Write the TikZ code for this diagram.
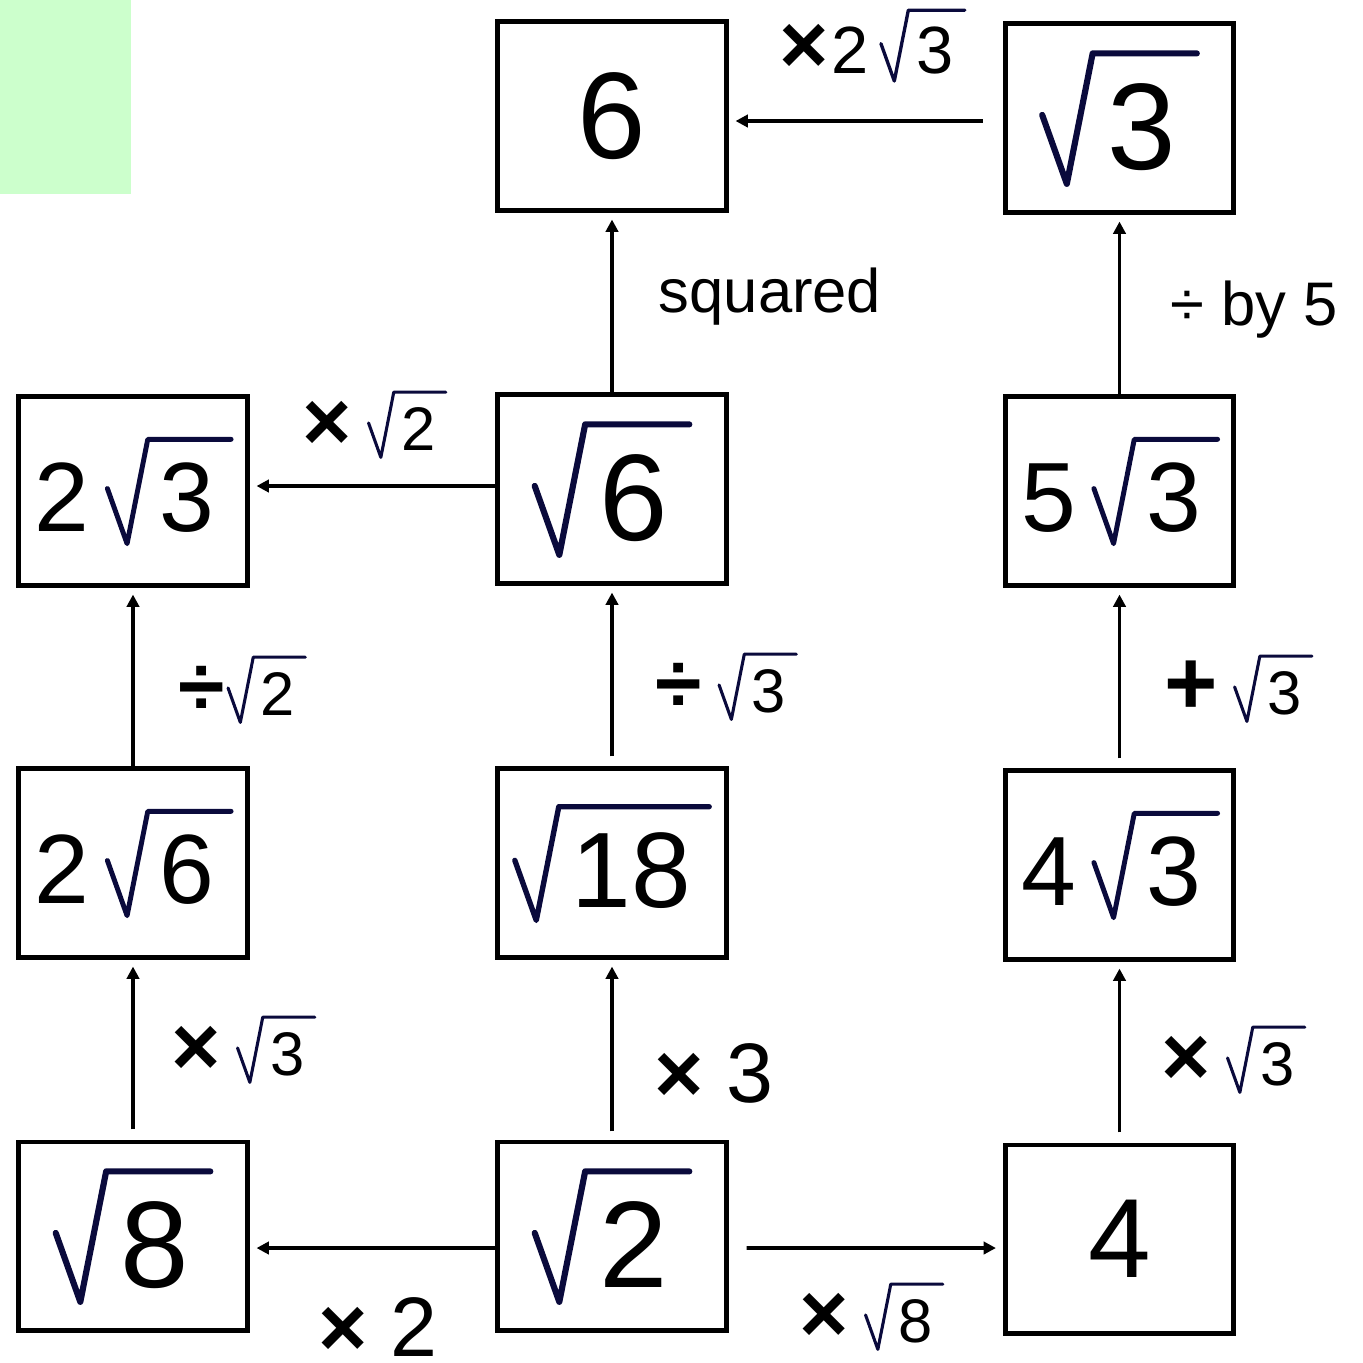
\documentclass[tikz,border=0pt]{standalone}
\usepackage{fontspec}
\setmainfont{Liberation Sans}
\usetikzlibrary{arrows.meta}
\definecolor{Mint}{HTML}{CCFFCC}
\definecolor{RootNavy}{HTML}{0A0A3C}
% hand-drawn radical in navy, radicand in black
\newsavebox{\rtbox}
\newlength{\rtlen}
\newcommand{\rt}[1]{\sbox{\rtbox}{#1}\setlength{\rtlen}{\wd\rtbox}%
  \tikz[baseline=0pt,x=1em,y=1em]{%
    \useasboundingbox (0,-0.14) rectangle (0.53,0.97);
    \draw[RootNavy,line width=0.05em,line cap=round,line join=round]
      (0,0.44) -- (0.2,-0.12) -- (0.41,0.94) -- ++(\rtlen+0.29em,0pt);}%
  \usebox{\rtbox}\kern0.17em}
\newcommand{\timesop}{{\bfseries\fontsize{24}{24}\selectfont ×}}
\newcommand{\divop}{{\bfseries\fontsize{24}{24}\selectfont ÷}}
\newcommand{\plusop}{{\bfseries\fontsize{26}{26}\selectfont +}}

\begin{document}
\begin{tikzpicture}[x=0.01cm,y=-0.01cm,
  numbox/.style={draw,line width=1.4pt,minimum width=2.28cm,minimum height=1.88cm,inner sep=0pt},
  bignum/.style={numbox,font=\fontsize{35}{36}\selectfont},
  midnum/.style={numbox,font=\fontsize{28}{30}\selectfont},
  oplabel/.style={font=\fontsize{17.5}{20}\selectfont,inner sep=0pt,anchor=base},
  opbig/.style={font=\fontsize{24}{26}\selectfont,inner sep=0pt,anchor=base},
  arr/.style={-{Triangle[length=3.5pt,width=3.5pt]},line width=1.1pt,shorten >=2pt}
]
  \useasboundingbox (0,0) rectangle (1362,1363);
  \fill[Mint] (0,0) rectangle (131,194);

  % boxes
  \node[bignum] (six)         at (612,116)    {6};
  \node[bignum] (rtthree)     at (1119.5,118) {\rt{3}};
  \node[midnum] (twortthree)  at (133,491)    {2\kern0.18em\rt{3}};
  \node[bignum] (rtsix)       at (612,489)    {\rt{6}};
  \node[midnum] (fivertthree) at (1119.5,491) {5\kern0.18em\rt{3}};
  \node[midnum] (twortsix)    at (133,863)    {2\kern0.18em\rt{6}};
  \node[numbox,font=\fontsize{30.5}{32}\selectfont] (rteighteen) at (612,863) {\rt{18}};
  \node[midnum] (fourrtthree) at (1119.5,865) {4\kern0.18em\rt{3}};
  \node[bignum] (rteight)     at (133,1236)   {\rt{8}};
  \node[bignum] (rttwo)       at (612,1236)   {\rt{2}};
  \node[numbox,font=\fontsize{32}{34}\selectfont] (four) at (1119.5,1239) {4};

  % arrows
  \draw[arr,shorten <=0.2cm] ([yshift=-0.03cm]rtthree.west) -- ([yshift=-0.05cm]six.east);
  \draw[arr] (rtsix.north) -- (six.south);
  \draw[arr] (fivertthree.north) -- (rtthree.south);
  \draw[arr] ([yshift=0.03cm]rtsix.west) -- ([yshift=0.05cm]twortthree.east);
  \draw[arr] (twortsix.north) -- (twortthree.south);
  \draw[arr,shorten <=0.1cm] (rteighteen.north) -- (rtsix.south);
  \draw[arr,shorten <=0.1cm] (fourrtthree.north) -- (fivertthree.south);
  \draw[arr,shorten <=0.1cm] (rteight.north) -- (twortsix.south);
  \draw[arr,shorten <=0.08cm] (rttwo.north) -- (rteighteen.south);
  \draw[arr,shorten <=0.1cm] (four.north) -- (fourrtthree.south);
  \draw[arr] ([yshift=-0.12cm]rttwo.west) -- ([yshift=-0.12cm]rteight.east);
  \draw[arr,shorten <=0.18cm] ([yshift=-0.12cm]rttwo.east) -- ([yshift=-0.09cm]four.west);

  % operation labels
  \node[oplabel,font=\fontsize{19}{20}\selectfont] (optop) at (872,73) {\timesop\kern0.05em 2\kern0.18em\rt{3}};
  \node[oplabel] (opsquared) at (770,312) {squared};
  \node[oplabel] (opfive) at (1254,325) {÷ by 5};
  \node[oplabel] (optwo) at (374,450) {\timesop\ \rt{2}};
  \node[oplabel] (opdivtwo) at (242,715) {\divop\kern0.05em\rt{2}};
  \node[oplabel] (opdivthree) at (726,712) {\divop\ \rt{3}};
  \node[oplabel] (opplus) at (1238,714) {\plusop\ \rt{3}};
  \node[oplabel] (opleft) at (243,1075) {\timesop\ \rt{3}};
  \node[opbig] (opthree) at (714,1102) {\timesop\ 3};
  \node[oplabel] (opright) at (1233,1085) {\timesop\ \rt{3}};
  \node[opbig] (opdouble) at (378,1356) {\timesop\ 2};
  \node[oplabel] (opeight) at (871,1342) {\timesop\ \rt{8}};
\end{tikzpicture}
\end{document}
